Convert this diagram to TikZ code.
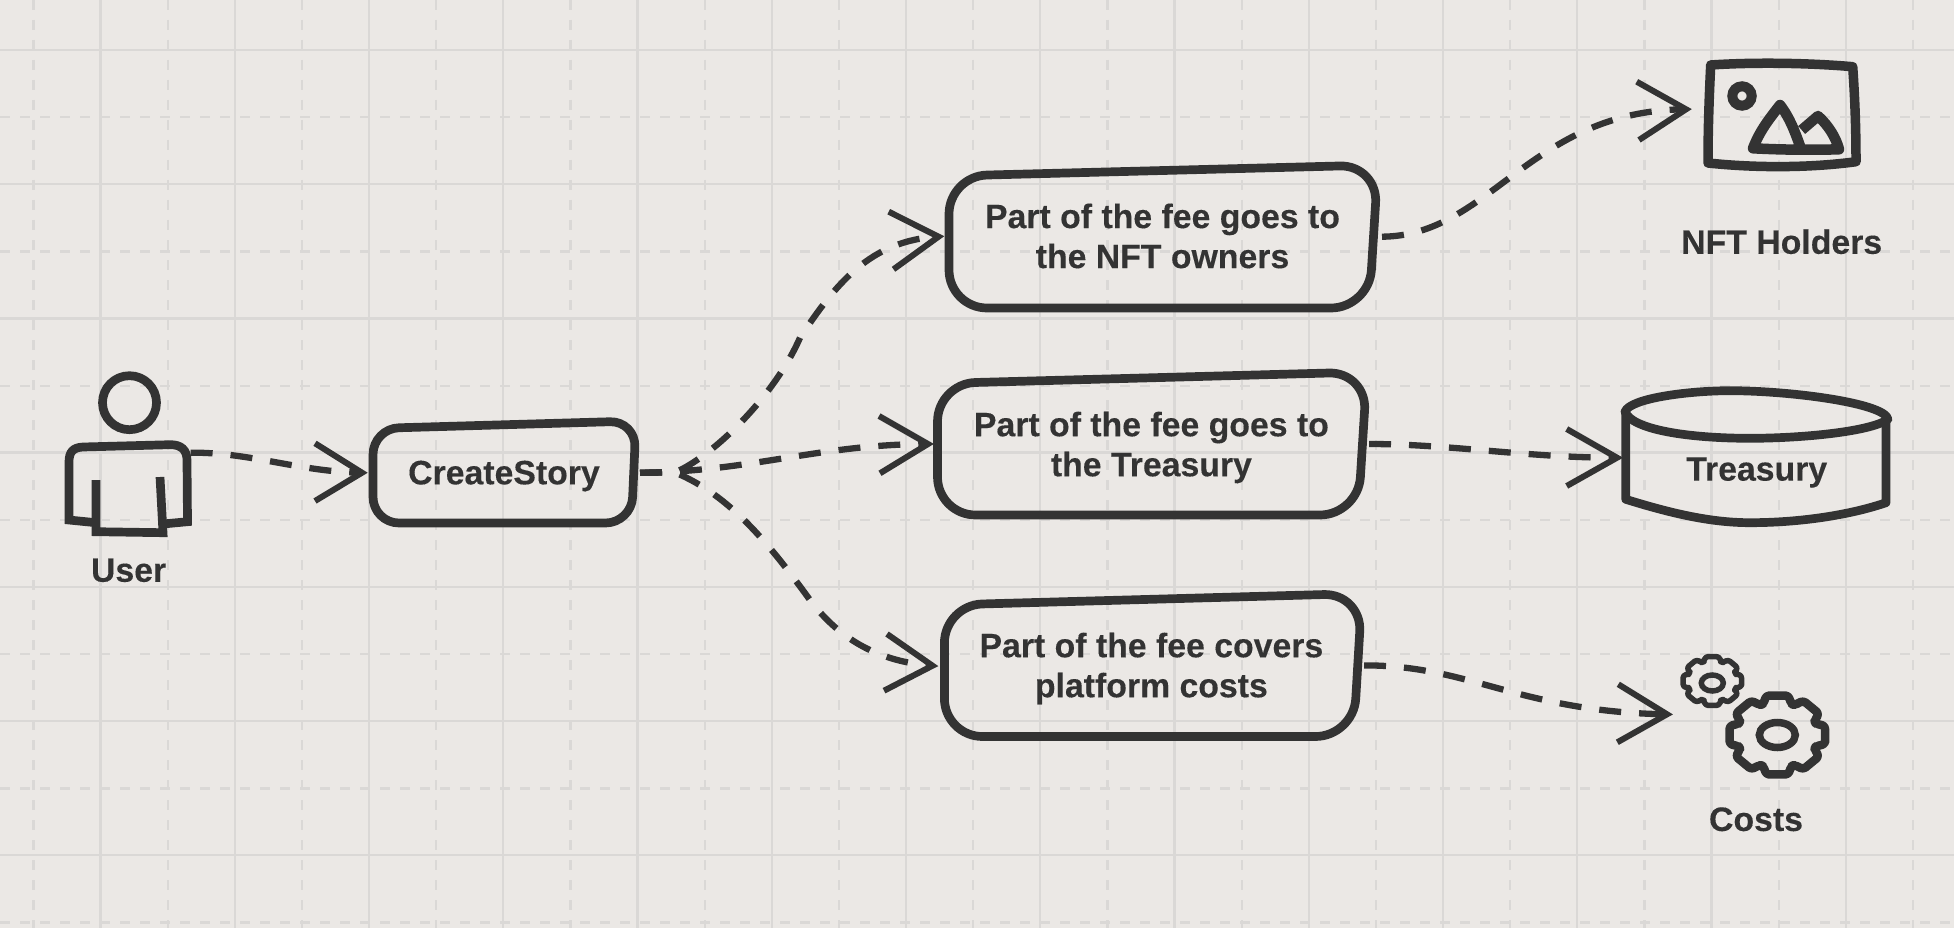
\documentclass[tikz,border=0pt]{standalone}
\usepackage{fontspec}
\setmainfont{Liberation Sans}
\definecolor{bgc}{HTML}{EBE8E5}
\definecolor{gridc}{HTML}{DAD8D6}
\definecolor{ink}{HTML}{333333}
\tikzset{
  x=1pt,y=-1pt,
  gridsolid/.style={draw=gridc,line width=2.4pt},
  griddash/.style={draw=gridc,line width=2.4pt,dash pattern=on 10pt off 10pt},
  sketch/.style={draw=ink,line width=8.7pt,line join=round},
  boxpath/.style={sketch,rounded corners=#1},
  flow/.style={draw=ink,line width=6.3pt,dash pattern=on 22pt off 18pt},
  barb/.style={draw=ink,line width=6pt,line join=miter},
  lbl/.style={text=ink,font=\bfseries\fontsize{33.8}{40}\selectfont\addfontfeature{FakeBold=0.25},align=center,inner sep=0pt},
}
\newcommand{\barbhead}[3]{\draw[barb] (#1) -- (#2) -- (#3);}
\begin{document}
\begin{tikzpicture}
\useasboundingbox (0,0) rectangle (1954,928);
\fill[bgc] (0,0) rectangle (1954,928);
% grid
\begin{scope}
\clip (0,0) rectangle (1954,928);
\foreach \i in {0,...,14} {
  \draw[griddash] ({33.5+134.25*\i},0) -- ({33.5+134.25*\i},928);
  \draw[gridsolid] ({100.5+134.25*\i},0) -- ({100.5+134.25*\i},928);
}
\foreach \j in {0,...,6} {
  \draw[griddash] (0,{117.3+134.2*\j}) -- (1954,{117.3+134.2*\j});
  \draw[gridsolid] (0,{50+134.2*\j}) -- (1954,{50+134.2*\j});
}
\end{scope}
% anchors
\coordinate (userOut) at (190.6,452.7);
\coordinate (storyIn) at (362,472.7);
\coordinate (storyOut) at (640,472.7);
\coordinate (fan) at (675,472.5);
\coordinate (nftIn) at (938.5,236.7);
\coordinate (treIn) at (928,444);
\coordinate (cosIn) at (932.5,665.7);
\coordinate (nftOut) at (1382,236.7);
\coordinate (treOut) at (1369,444);
\coordinate (cosOut) at (1364,665.4);
\coordinate (imgIn) at (1686,109.3);
\coordinate (cylIn) at (1617,457.7);
\coordinate (gearIn) at (1667,714.3);
% user
\draw[sketch] (129.5,402.7) circle [radius=27];
\draw[sketch,line join=miter] (96,522.7) -- (69,520) -- (69,462) .. controls (69,452) and (73,447.5) .. (83,447) -- (170,444.7) .. controls (181,444.5) and (187,450) .. (187,460) -- (187.5,521.7) -- (163,524);
\draw[sketch,line join=miter] (96,480) -- (96,531.7) -- (163,532.7) -- (160,477);
\node[lbl] (userLabel) at (128.6,570.3) {User};
% boxes
\draw[boxpath=26pt] (373,428.5) -- (636,421) -- (631.5,523) -- (373,523) -- cycle;
\node[lbl] (story) at (504,476) {CreateStory};
\draw[boxpath=38pt] (949,176) -- (1378,165) -- (1369,308) -- (949,308) -- cycle;
\node[lbl] (fee1) at (1162.5,236) {Part of the fee goes to\\the NFT owners};
\draw[boxpath=38pt] (937.5,383.5) -- (1367,372) -- (1358,515) -- (937.5,515) -- cycle;
\node[lbl] (fee2) at (1151.4,447.5) {Part of the fee goes to\\the Treasury};
\draw[boxpath=38pt] (944.4,605) -- (1362,593.5) -- (1353.5,736.5) -- (944.4,736.5) -- cycle;
\node[lbl] (fee3) at (1151.4,668.5) {Part of the fee covers\\platform costs};
% image icon
\draw[draw=ink,line width=9.5pt,line join=round] (1710.7,65) .. controls (1755,62) and (1810,63) .. (1852.7,66.7) .. controls (1855,100) and (1856,130) .. (1856,161.7) .. controls (1810,168) and (1755,168) .. (1708,163) .. controls (1708,130) and (1709,100) .. (1710.7,65) -- cycle;
\draw[draw=ink,line width=10pt] (1742,96) circle [radius=9.7];
\draw[draw=ink,line width=10.5pt,line join=round] (1800.7,148) .. controls (1795,132) and (1790,118) .. (1780,105) .. controls (1770,118) and (1760,130) .. (1753,148.3) .. controls (1785,150) and (1815,150) .. (1839,149.3) .. controls (1836,138) and (1829,126) .. (1818,116) -- (1801.7,130);
\node[lbl] (nftLabel) at (1781.7,241.7) {NFT Holders};
% treasury
\draw[sketch] (1625.7,411.7) -- (1625.7,499.3) .. controls (1670,513) and (1710,522.7) .. (1750,522.7) .. controls (1800,522.7) and (1850,515) .. (1886,502.7) -- (1886,419.3);
\draw[sketch] (1625,411.7) .. controls (1630,398) and (1690,390.7) .. (1730,390.7) .. controls (1790,390.7) and (1885,403) .. (1888,419.3) .. controls (1870,432) and (1800,438.3) .. (1750,438.3) .. controls (1690,438.3) and (1632,430) .. (1625,411.7) -- cycle;
\node[lbl] (tre) at (1756.7,472.5) {Treasury};
% gears
\begin{scope}[shift={(1712.3,681)}]
\draw[draw=ink,line width=5.5pt,line join=round,rounded corners=2.5pt] (-13:30pt and 25pt)
  \foreach \a in {0,45,...,315} { -- ({\a-13}:30pt and 25pt) -- ({\a+13}:30pt and 25pt) -- ({\a+20}:25pt and 20.5pt) -- ({\a+25}:25pt and 20.5pt) } -- cycle;
\draw[draw=ink,line width=5.5pt] (0,2) ellipse [x radius=11,y radius=8];
\end{scope}
\begin{scope}[shift={(1777.3,735)}]
\draw[draw=ink,line width=8.5pt,line join=round,rounded corners=3pt] (-13:49pt and 40.5pt)
  \foreach \a in {0,45,...,315} { -- ({\a-13}:49pt and 40.5pt) -- ({\a+13}:49pt and 40.5pt) -- ({\a+20}:41pt and 33pt) -- ({\a+25}:41pt and 33pt) } -- cycle;
\draw[draw=ink,line width=7.5pt] (0,0) ellipse [x radius=18,y radius=12.5];
\end{scope}
\node[lbl] (costs) at (1756,819.3) {Costs};
% connectors
\draw[flow] (userOut) .. controls (250,452) and (300,472) .. (storyIn);
\barbhead{315,443.3}{storyIn}{315,501}
\draw[flow] (storyOut) -- (fan) .. controls (715,455) and (775,395) .. (800,337.7) .. controls (835,285) and (870,240) .. (nftIn);
\barbhead{888.7,211.7}{nftIn}{893.5,269.3}
\draw[flow] (storyOut) .. controls (750,472) and (820,444) .. (treIn);
\barbhead{879,416}{treIn}{880,473.3}
\draw[flow] (storyOut) -- (fan) .. controls (730,495) and (770,545) .. (810,600) .. controls (840,640) and (880,662) .. (cosIn);
\barbhead{887,634}{cosIn}{884,690.7}
\draw[flow] (nftOut) .. controls (1490,236) and (1530,110) .. (imgIn);
\barbhead{1636.7,81.7}{imgIn}{1639,140}
\draw[flow] (treOut) .. controls (1450,444) and (1530,458) .. (cylIn);
\barbhead{1566.7,429}{cylIn}{1566.7,486}
\draw[flow] (cosOut) .. controls (1470,665) and (1520,712) .. (gearIn);
\barbhead{1618.3,684.3}{gearIn}{1617.3,742.3}
\end{tikzpicture}
\end{document}
